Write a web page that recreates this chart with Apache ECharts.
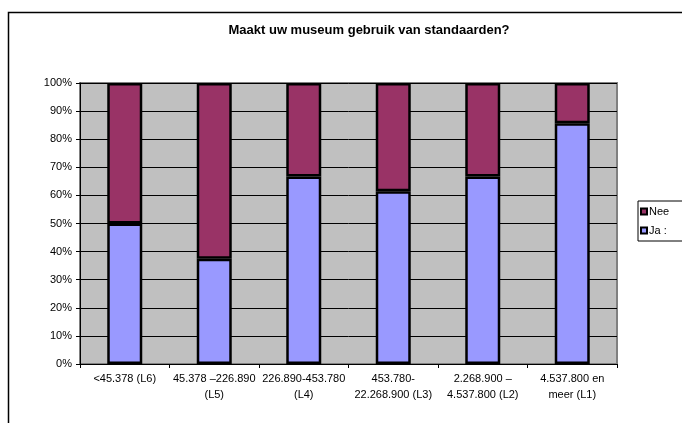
<!DOCTYPE html>
<html><head><meta charset="utf-8">
<script src="https://cdn.jsdelivr.net/npm/echarts@6/dist/echarts.min.js"></script>
<style>html,body{margin:0;padding:0;background:#fff}#c{width:682px;height:423px}</style>
</head><body><div id="c"></div>
<script>
const categories = ['<45.378 (L6)', '45.378 –226.890\n(L5)', '226.890-453.780\n(L4)', '453.780-\n22.268.900 (L3)', '2.268.900 –\n4.537.800 (L2)', '4.537.800 en\nmeer (L1)'];
const jaValues = [50, 37.5, 66.7, 61.5, 66.7, 85.7];
const neeValues = [50, 62.5, 33.3, 38.5, 33.3, 14.3];
const yTicks = [0, 10, 20, 30, 40, 50, 60, 70, 80, 90, 100];

const font = '"Liberation Sans", Arial, sans-serif';
const chart = echarts.init(document.getElementById('c'), null, {renderer: 'canvas'});
chart.setOption({
  animation: false,
  title: {
    text: 'Maakt uw museum gebruik van standaarden?',
    left: 364, top: 19, textAlign: 'center',
    textStyle: {fontFamily: font, fontSize: 13, fontWeight: 'bold', color: '#000'}
  },
  graphic: [{
    type: 'rect', shape: {x: 8.5, y: 12.5, width: 800, height: 600},
    style: {fill: 'none', stroke: '#000', lineWidth: 1.5}, silent: true, z: -1
  }],
  legend: {
    data: ['Nee', 'Ja :'],
    orient: 'vertical', left: 638, top: 201,
    itemWidth: 6, itemHeight: 6, itemGap: 8,
    icon: 'rect',
    padding: [5, 40, 5, 2],
    borderColor: '#000', borderWidth: 1, backgroundColor: '#fff',
    textStyle: {fontFamily: font, fontSize: 11, color: '#000', padding: [0, 0, 0, -3]}
  },
  grid: {
    left: 80, top: 83, width: 537, height: 281,
    show: true, backgroundColor: '#C0C0C0', borderColor: '#808080', borderWidth: 2
  },
  xAxis: {
    type: 'category', data: categories,
    axisLine: {show: true, lineStyle: {color: '#000', width: 1}},
    axisTick: {show: true, length: 4, lineStyle: {color: '#000'}},
    axisLabel: {fontFamily: font, fontSize: 11, color: '#000', interval: 0, margin: 7, lineHeight: 16}
  },
  yAxis: {
    type: 'value', min: 0, max: 100, interval: 10,
    axisLine: {show: true, lineStyle: {color: '#000', width: 1}},
    axisTick: {show: true, length: 4, lineStyle: {color: '#000'}},
    splitLine: {show: true, lineStyle: {color: '#000', width: 1}},
    axisLabel: {fontFamily: font, fontSize: 11, color: '#000', margin: 8, formatter: v => yTicks.includes(v) ? v + '%' : ''}
  },
  series: [
    {name: 'Ja :', type: 'bar', stack: 's', data: jaValues, barWidth: 35,
     itemStyle: {color: '#9999FF', borderColor: '#000', borderWidth: 2.5}},
    {name: 'Nee', type: 'bar', stack: 's', data: neeValues, barWidth: 35,
     itemStyle: {color: '#993366', borderColor: '#000', borderWidth: 2.5}}
  ]
});
</script></body></html>
